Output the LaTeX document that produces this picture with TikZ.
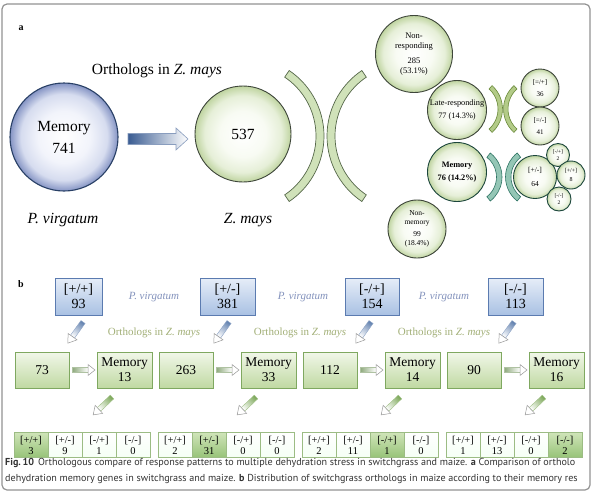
\documentclass[tikz,border=0pt]{standalone}
\usepackage{fontspec}
\setmainfont{Liberation Serif}
\newfontfamily\capfont{PT Sans}
\usetikzlibrary{calc}
\definecolor{gA}{HTML}{F8FBF3}
\definecolor{gB}{HTML}{E6EFD8}
\definecolor{gC}{HTML}{BFD4A0}
\definecolor{bA}{HTML}{F2F4FB}
\definecolor{bB}{HTML}{D6DCEF}
\definecolor{bC}{HTML}{8594C4}
\definecolor{bubline}{HTML}{3E463A}
\definecolor{arrblue}{HTML}{3A5C92}
\definecolor{boxblue}{HTML}{5B7BB0}
\definecolor{boxbluetop}{HTML}{E6EDF8}
\definecolor{boxbluebot}{HTML}{A9C1E3}
\definecolor{boxgreen}{HTML}{7FA860}
\definecolor{boxgreentop}{HTML}{F1F7E9}
\definecolor{boxgreenbot}{HTML}{C0D9A2}
\definecolor{cellline}{HTML}{9CBC84}
\definecolor{hitop}{HTML}{CFE4B8}
\definecolor{hibot}{HTML}{97C378}
\definecolor{pvcol}{HTML}{8493BD}
\definecolor{orthcol}{HTML}{A3B078}
\definecolor{arcfill}{HTML}{D0E2B9}
\definecolor{arcline}{HTML}{56684A}
\definecolor{olivefill}{HTML}{B3CB88}
\definecolor{oliveline}{HTML}{6A8A3A}
\definecolor{tealfill}{HTML}{94C6B5}
\definecolor{tealline}{HTML}{2E7464}
\definecolor{diagblue}{HTML}{5F7FAE}
\definecolor{diaggreen}{HTML}{7AA656}
\definecolor{hgreen}{HTML}{8CA87A}
\definecolor{capcol}{HTML}{333333}
\pgfdeclareradialshading{gbub}{\pgfpoint{0bp}{0bp}}{color(0bp)=(white); color(12bp)=(gA); color(20bp)=(gB); color(25bp)=(gC); color(50bp)=(gC)}
\pgfdeclareradialshading{bbub}{\pgfpoint{0bp}{0bp}}{color(0bp)=(white); color(12bp)=(bA); color(20bp)=(bB); color(25bp)=(bC); color(50bp)=(bC)}
\newcommand\fatarr[8]{%
 \begin{scope}[transform canvas={shift={(#1,#2)},rotate=#3}]
  \shade[left color=#5, right color=white, draw=#5!70!white, line width=0.4pt] (0,{-#6}) -- ({#4-#8},{-#6}) -- ({#4-#8},{#6}) -- (0,{#6}) -- cycle;
  \filldraw[fill=white, draw=gray!80, line width=0.5pt] ({#4-#8},{-#7}) -- (#4,0) -- ({#4-#8},{#7}) -- cycle;
 \end{scope}}
\tikzset{
 gbubble/.style={circle, shade, shading=gbub, draw=bubline, line width=0.9pt, inner sep=0pt},
 bbubble/.style={circle, shade, shading=bbub, draw=arrblue!70!black, line width=1.1pt, inner sep=0pt},
 ctext/.style={align=center, inner sep=0pt},
 bluebox/.style={rectangle, draw=boxblue, line width=0.8pt, top color=boxbluetop, bottom color=boxbluebot, minimum height=37pt, align=center, inner sep=0pt, font=\fontsize{14}{15}\selectfont},
 greenbox/.style={rectangle, draw=boxgreen, line width=0.8pt, top color=boxgreentop, bottom color=boxgreenbot, minimum height=36pt, minimum width=54pt, align=center, inner sep=0pt, font=\fontsize{13.5}{15}\selectfont},
 cell/.style={rectangle, draw=cellline, line width=0.8pt, top color=white, bottom color=green!4!white, minimum height=25pt, minimum width=34pt, align=center, inner sep=0pt, font=\fontsize{10.5}{11}\selectfont},
 hicell/.style={cell, top color=hitop, bottom color=hibot},
 pvlab/.style={font=\fontsize{11}{12}\selectfont\itshape, text=pvcol},
 orlab/.style={font=\fontsize{11}{12}\selectfont, text=orthcol},
 biglab/.style={font=\bfseries\fontsize{10}{12}\selectfont}
}
\begin{document}
\begin{tikzpicture}[x=1pt,y=-1pt]
\useasboundingbox (0,0) rectangle (596,496);
\fill[white] (0,0) rectangle (596,496);
\draw[rounded corners=5pt, draw=gray!85, line width=1.2pt] (2,4) rectangle (590,490);

% ---------- part a ----------
\node[biglab] (la) at (21,28) {a};
\node[font=\fontsize{15.5}{17}\selectfont] (orthA) at (157,71) {Orthologs in \textit{Z. mays}};
\node[bbubble, minimum size=108pt] (m741) at (64,137) {};
\node[ctext, font=\fontsize{15.5}{22}\selectfont] (m741t) at (m741) {Memory\\741};
\node[font=\fontsize{15.5}{17}\selectfont\itshape] (pv) at (63,220) {P. virgatum};
\node[gbubble, minimum size=96pt] (z537) at (243,134) {};
\node[font=\fontsize{15.5}{17}\selectfont] (z537t) at (z537) {537};
\node[font=\fontsize{15.5}{17}\selectfont\itshape] (zm) at (248,220) {Z. mays};
% big arrow
\shade[left color=arrblue, right color=white, draw=arrblue!60!white, line width=0.6pt]
  (128,133.5) -- (176,133.5) -- (176,128) -- (188,139) -- (176,150) -- (176,144.5) -- (128,144.5) -- cycle;
% big arcs
\coordinate (arcL) at (245,136);
\coordinate (arcR) at (406,136);
\filldraw[fill=arcfill, draw=arcline, line width=0.7pt]
  ([shift={(arcL)}]-56:79) arc[start angle=-56, end angle=56, radius=79] -- ([shift={(arcL)}]56:71) arc[start angle=56, end angle=-56, radius=71] -- cycle;
\filldraw[fill=arcfill, draw=arcline, line width=0.7pt]
  ([shift={(arcR)}]124:79) arc[start angle=124, end angle=236, radius=79] -- ([shift={(arcR)}]236:71) arc[start angle=236, end angle=124, radius=71] -- cycle;
% right side bubbles
\node[gbubble, minimum size=77pt] (nr) at (414,54) {};
\node[ctext, font=\fontsize{8.5}{10.5}\selectfont] at (nr) {Non-\\responding\\[4pt]285\\(53.1\%)};
\node[gbubble, minimum size=59pt] (late) at (457,110) {};
\node[ctext, font=\fontsize{8.3}{13}\selectfont] at (late) {Late-responding\\77 (14.3\%)};
\node[gbubble, minimum size=59pt, draw=tealline!60!black] (m76) at (457,172) {};
\node[ctext, font=\bfseries\fontsize{8.3}{13}\selectfont] at (m76) {Memory\\76 (14.2\%)};
\node[gbubble, minimum size=58pt] (nm) at (417,229) {};
\node[ctext, font=\fontsize{7.5}{8.5}\selectfont] at (nm) {Non-\\memory\\[4pt]99\\(18.4\%)};
% small arc pairs
\coordinate (ua1) at (471,109);
\coordinate (ua2) at (535,109);
\filldraw[fill=olivefill, draw=oliveline, line width=0.6pt]
  ([shift={(ua1)}]-48:31.5) arc[start angle=-48, end angle=48, radius=31.5] -- ([shift={(ua1)}]48:27) arc[start angle=48, end angle=-48, radius=27] -- cycle;
\filldraw[fill=olivefill, draw=oliveline, line width=0.6pt]
  ([shift={(ua2)}]132:31.5) arc[start angle=132, end angle=228, radius=31.5] -- ([shift={(ua2)}]228:27) arc[start angle=228, end angle=132, radius=27] -- cycle;
\coordinate (la1) at (471.5,177);
\coordinate (la2) at (536,177);
\filldraw[fill=tealfill, draw=tealline, line width=0.6pt]
  ([shift={(la1)}]-52:30.5) arc[start angle=-52, end angle=52, radius=30.5] -- ([shift={(la1)}]52:25) arc[start angle=52, end angle=-52, radius=25] -- cycle;
\filldraw[fill=tealfill, draw=tealline, line width=0.6pt]
  ([shift={(la2)}]128:30.5) arc[start angle=128, end angle=232, radius=30.5] -- ([shift={(la2)}]232:25) arc[start angle=232, end angle=128, radius=25] -- cycle;
% small bubbles
\node[gbubble, minimum size=38pt] (s36) at (540,88) {};
\node[ctext, font=\fontsize{7}{8}\selectfont] at (s36) {[=/+]\\[4pt]36};
\node[gbubble, minimum size=38pt] (s41) at (540,126) {};
\node[ctext, font=\fontsize{7}{8}\selectfont] at (s41) {[=/-]\\[4pt]41};
\node[gbubble, minimum size=43pt, draw=tealline!60!black] (s64) at (535,177) {};
\node[ctext, font=\fontsize{7.5}{8.5}\selectfont] at (s64) {[+/-]\\[5pt]64};
\node[gbubble, minimum size=23pt, draw=tealline!60!black] (s2a) at (558,155) {};
\node[ctext, font=\fontsize{5.5}{6.5}\selectfont] at (s2a) {[-/+]\\2};
\node[gbubble, minimum size=28pt, draw=tealline!60!black] (s8) at (571,175) {};
\node[ctext, font=\fontsize{6}{7}\selectfont] at (s8) {[+/+]\\[2pt]8};
\node[gbubble, minimum size=24pt, draw=tealline!60!black] (s2b) at (559,199) {};
\node[ctext, font=\fontsize{5.5}{6.5}\selectfont] at (s2b) {[-/-]\\2};

% ---------- part b ----------
\node[biglab] (lb) at (21,284) {b};
\node[bluebox, minimum width=47pt] (b1) at (78.5,296.5) {[+/+]\\93};
\node[bluebox, minimum width=55pt] (b2) at (227.5,296.5) {[+/-]\\381};
\node[bluebox, minimum width=54pt] (b3) at (372,296.5) {[-/+]\\154};
\node[bluebox, minimum width=55pt] (b4) at (515.5,296.5) {[-/-]\\113};
\node[pvlab] (pv1) at (154,297) {P. virgatum};
\node[pvlab] (pv2) at (303,297) {P. virgatum};
\node[pvlab] (pv3) at (444,297) {P. virgatum};
\node[orlab] (or1) at (154,333) {Orthologs in \textit{Z. mays}};
\node[orlab] (or2) at (300,333) {Orthologs in \textit{Z. mays}};
\node[orlab] (or3) at (444,333) {Orthologs in \textit{Z. mays}};

% groups
\node[greenbox] (ga1) at (42,370) {73};
\node[greenbox, minimum width=55pt] (gb1) at (124.5,370) {Memory\\13};
\node[greenbox] (ga2) at (186,370) {263};
\node[greenbox, minimum width=55pt] (gb2) at (268.5,370) {Memory\\33};
\node[greenbox] (ga3) at (330,370) {112};
\node[greenbox, minimum width=55pt] (gb3) at (412.5,370) {Memory\\14};
\node[greenbox] (ga4) at (474,370) {90};
\node[greenbox, minimum width=55pt] (gb4) at (556.5,370) {Memory\\16};

% horizontal arrows
\fatarr{72}{370}{0}{23}{hgreen}{2.6}{5.5}{7}
\fatarr{216}{370}{0}{23}{hgreen}{2.6}{5.5}{7}
\fatarr{360}{370}{0}{23}{hgreen}{2.6}{5.5}{7}
\fatarr{504}{370}{0}{23}{hgreen}{2.6}{5.5}{7}
% diagonal blue arrows
\fatarr{83}{322}{-125.5}{26}{diagblue}{2.5}{5.5}{8}
\fatarr{229}{322}{-125.5}{26}{diagblue}{2.5}{5.5}{8}
\fatarr{371}{322}{-125.5}{26}{diagblue}{2.5}{5.5}{8}
\fatarr{514}{322}{-125.5}{26}{diagblue}{2.5}{5.5}{8}
% diagonal green arrows
\fatarr{112}{397}{-136.5}{26}{diaggreen}{2.5}{5.5}{8}
\fatarr{256}{397}{-136.5}{26}{diaggreen}{2.5}{5.5}{8}
\fatarr{400}{397}{-136.5}{26}{diaggreen}{2.5}{5.5}{8}
\fatarr{544}{397}{-136.5}{26}{diaggreen}{2.5}{5.5}{8}

% tables
\foreach \g/\xo/\hi/\va/\vb/\vc/\vd in {1/15/1/3/9/1/0, 2/159/2/2/31/0/0, 3/303/3/2/11/1/0, 4/447/4/1/13/0/2}{
  \foreach \k/\lab/\val in {1/{[+/+]}/\va, 2/{[+/-]}/\vb, 3/{[-/+]}/\vc, 4/{[-/-]}/\vd}{
    \ifnum\k=\hi
      \node[hicell] (t\g\k) at ({\xo-1+17+34*(\k-1)},445) {\lab\\\val};
    \else
      \node[cell] (t\g\k) at ({\xo-1+17+34*(\k-1)},445) {\lab\\\val};
    \fi
  }
}

% caption
\node[anchor=west, inner sep=0pt, text=capcol, font=\capfont\fontsize{10.1}{11}\selectfont] (cap1) at (5,463)
 {\textbf{Fig.\,10}\hspace{4pt}Orthologous compare of response patterns to multiple dehydration stress in switchgrass and maize. \textbf{a} Comparison of ortholo};
\node[anchor=west, inner sep=0pt, text=capcol, font=\capfont\fontsize{10.1}{11}\selectfont] (cap2) at (5,479)
 {dehydration memory genes in switchgrass and maize. \textbf{b} Distribution of switchgrass orthologs in maize according to their memory res};
\end{tikzpicture}
\end{document}
